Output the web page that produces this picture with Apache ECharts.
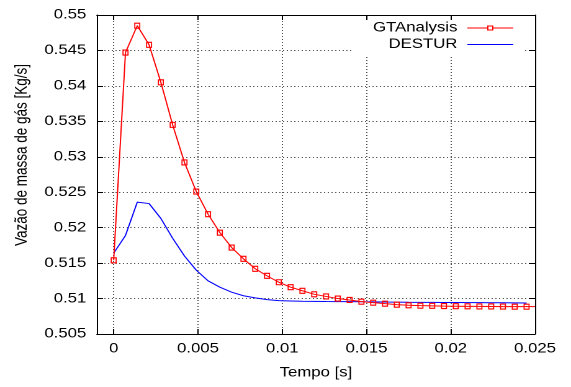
<!DOCTYPE html>
<html>
<head>
<meta charset="utf-8">
<script src="https://cdn.jsdelivr.net/npm/echarts@6/dist/echarts.min.js"></script>
<style>
  html, body { margin: 0; padding: 0; background: #fff; overflow: hidden; }
  /* chart is laid out at 460px and widened to the 571px page */
  #chart { width: 460px; height: 387px; transform: scaleX(1.2413); transform-origin: 0 0; }
</style>
</head>
<body>
<div id="chart"></div>
<script>
// Gas mass flow rate over time [s]
const timeGT = [0, 0.0007, 0.0014, 0.0021, 0.0028, 0.0035, 0.0042, 0.0049, 0.0056, 0.0063,
  0.007, 0.0077, 0.0084, 0.0091, 0.0098, 0.0105, 0.0112, 0.0119, 0.0126, 0.0133,
  0.014, 0.0147, 0.0154, 0.0161, 0.0168, 0.0175, 0.0182, 0.0189, 0.0196, 0.0203,
  0.021, 0.0217, 0.0224, 0.0231, 0.0238, 0.0245, 0.0252];
const gtAnalysis = [0.5154, 0.5447, 0.5485, 0.5458, 0.5405, 0.5345, 0.5292, 0.5251, 0.5219, 0.5193,
  0.5172, 0.5156, 0.5142, 0.5132, 0.5123, 0.5116, 0.5111, 0.5106, 0.5103, 0.5100,
  0.5098, 0.50956, 0.50942, 0.50928, 0.50914, 0.50905, 0.50900, 0.50897, 0.50894, 0.50892,
  0.50890, 0.50889, 0.50888, 0.50887, 0.50886, 0.50886, 0.50886];

const timeDestur = [0, 0.0007, 0.0014, 0.0021, 0.0028, 0.0035, 0.0042, 0.0049, 0.0056, 0.0063,
  0.007, 0.0077, 0.0084, 0.0091, 0.0098, 0.0105, 0.0112, 0.0119, 0.0126, 0.0133,
  0.014, 0.0147, 0.0154, 0.0161, 0.0168, 0.0175, 0.0182, 0.0189, 0.0196, 0.0203,
  0.021, 0.0217, 0.0224, 0.0231, 0.0238, 0.0245];
const destur = [0.5164, 0.5189, 0.5236, 0.5234, 0.5213, 0.5185, 0.5160, 0.5140, 0.5125, 0.5116,
  0.5109, 0.5104, 0.5101, 0.50985, 0.5097, 0.50966, 0.50962, 0.5096, 0.50958, 0.50957,
  0.50956, 0.50955, 0.50953, 0.50951, 0.5095, 0.50948, 0.50947, 0.50946, 0.50945, 0.50944,
  0.50943, 0.50942, 0.50941, 0.5094, 0.50939, 0.50938];

const xTickValues = [0, 0.005, 0.01, 0.015, 0.02, 0.025];
const yTickValues = [0.505, 0.51, 0.515, 0.52, 0.525, 0.53, 0.535, 0.54, 0.545, 0.55];

const FONT = 'Liberation Sans, Arial, Helvetica, sans-serif';

function tickLabel(list) {
  return function (v) {
    const hit = list.find(t => Math.abs(t - v) < 1e-9);
    return hit === undefined ? '' : String(hit);
  };
}

const gridLine = { show: true, lineStyle: { color: '#555', type: [1, 2], width: 1 } };
const frameLine = { show: true, onZero: false, lineStyle: { color: '#000', width: 1 } };
const innerTick = { show: true, inside: true, length: 5, lineStyle: { color: '#000' } };

const chart = echarts.init(document.getElementById('chart'), null, { devicePixelRatio: 2 });

chart.setOption({
  animation: false,
  backgroundColor: '#fff',
  grid: { left: 78, right: 29, top: 15, bottom: 53, containLabel: false },
  xAxis: [{
    type: 'value', position: 'bottom', min: -0.001, max: 0.025, splitNumber: 5,
    name: 'Tempo [s]', nameLocation: 'middle', nameGap: 32,
    nameTextStyle: { fontSize: 13.5, color: '#000', fontFamily: FONT },
    axisLine: frameLine,
    axisTick: innerTick,
    axisLabel: { margin: 8, fontSize: 13.5, color: '#000', fontFamily: FONT, formatter: tickLabel(xTickValues) },
    splitLine: gridLine
  }, {
    type: 'value', position: 'top', min: -0.001, max: 0.025, splitNumber: 5, z: 6,
    axisLine: frameLine,
    axisTick: innerTick,
    axisLabel: { show: false },
    splitLine: { show: false }
  }],
  yAxis: [{
    type: 'value', position: 'left', min: 0.505, max: 0.55, interval: 0.005,
    name: 'Vazão de massa de gás [Kg/s]', nameLocation: 'middle', nameGap: 49,
    nameTextStyle: { fontSize: 13.5, color: '#000', fontFamily: FONT, padding: [0, 0, 0, 39] },
    axisLine: frameLine,
    axisTick: innerTick,
    axisLabel: { margin: 8.5, fontSize: 13.5, color: '#000', fontFamily: FONT, formatter: tickLabel(yTickValues) },
    splitLine: gridLine
  }, {
    type: 'value', position: 'right', min: 0.505, max: 0.55, interval: 0.005, z: 6,
    axisLine: frameLine,
    axisTick: innerTick,
    axisLabel: { show: false },
    splitLine: { show: false }
  }],
  legend: [{
    data: ['GTAnalysis'], orient: 'vertical', align: 'right', right: 39, top: 16, z: 5,
    itemWidth: 37, itemHeight: 5, padding: [5, 7, 2, 14], backgroundColor: '#fff',
    selectedMode: false,
    lineStyle: { width: 1 },
    itemStyle: { color: '#fff', borderColor: '#ff0000', borderWidth: 1 },
    textStyle: { fontSize: 13.5, color: '#000', fontFamily: FONT, padding: [0, 3, 0, 0] }
  }, {
    data: ['DESTUR'], orient: 'vertical', align: 'right', right: 39, top: 37, z: 4,
    itemWidth: 37, itemHeight: 5, padding: [0.5, 7, 4, 28], backgroundColor: '#fff',
    selectedMode: false,
    lineStyle: { width: 1 },
    itemStyle: { opacity: 0 },
    textStyle: { fontSize: 13.5, color: '#000', fontFamily: FONT, padding: [0, 3, 0, 0] }
  }],
  series: [{
    name: 'GTAnalysis', type: 'line', xAxisIndex: 0, yAxisIndex: 0,
    data: timeGT.map((t, i) => [t, gtAnalysis[i]]),
    symbol: 'rect', symbolSize: [4, 5], showSymbol: true, showAllSymbol: true,
    lineStyle: { color: '#ff0000', width: 1 },
    itemStyle: { color: 'rgba(255,255,255,0)', borderColor: '#ff0000', borderWidth: 1 },
    emphasis: { disabled: true }, clip: true, z: 3
  }, {
    name: 'DESTUR', type: 'line', xAxisIndex: 0, yAxisIndex: 0,
    data: timeDestur.map((t, i) => [t, destur[i]]),
    symbol: 'none',
    lineStyle: { color: '#0000ff', width: 1 },
    itemStyle: { color: '#0000ff' },
    emphasis: { disabled: true }, clip: true, z: 2
  }]
});
</script>
</body>
</html>
